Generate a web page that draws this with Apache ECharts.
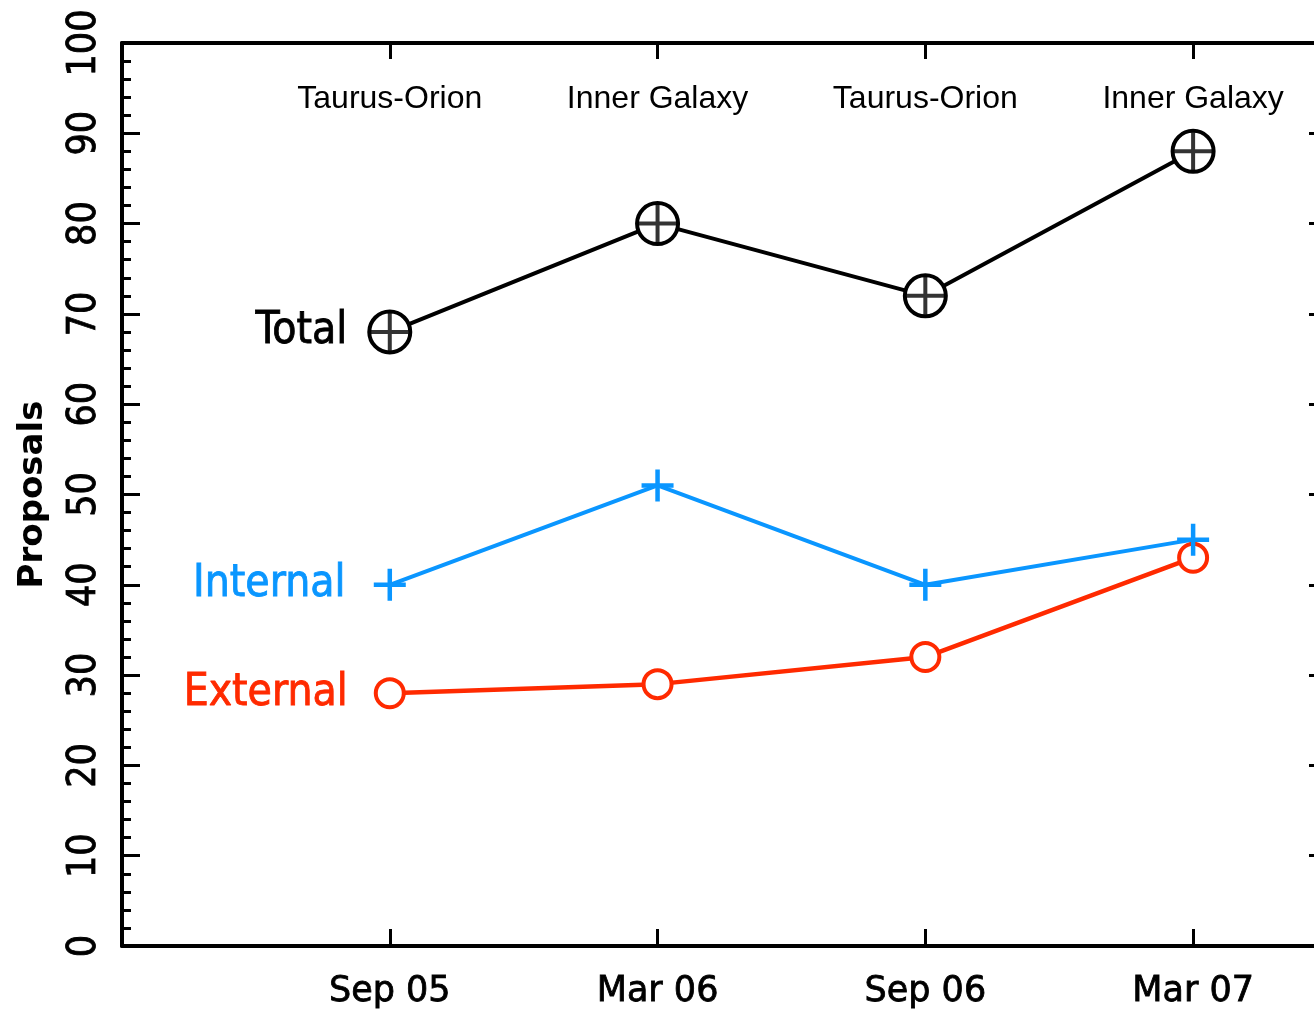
<!DOCTYPE html>
<html>
<head>
<meta charset="utf-8">
<script src="https://cdn.jsdelivr.net/npm/echarts@6/dist/echarts.min.js"></script>
<style>
html,body{margin:0;padding:0;background:#fff;overflow:hidden;}
#c{width:1340px;height:1013px;}
</style>
</head>
<body>
<div id="c"></div>
<script>
// ---- data ----
var categories = ['Sep 05', 'Mar 06', 'Sep 06', 'Mar 07'];
var regions = ['Taurus-Orion', 'Inner Galaxy', 'Taurus-Orion', 'Inner Galaxy'];
var totalValues = [68, 80, 72, 88];
var internalValues = [40, 51, 40, 45];
var externalValues = [28, 29, 32, 43];
var yTicks = [0, 10, 20, 30, 40, 50, 60, 70, 80, 90, 100];

function pts(vals) { return vals.map(function (v, i) { return [i + 1, v]; }); }
function catLabel(arr) {
  return function (v) {
    var i = Math.round(v) - 1;
    return (Math.abs(v - Math.round(v)) < 1e-6 && i >= 0 && i < arr.length) ? arr[i] : '';
  };
}
function firstLabel(name, color, dist) {
  return {
    show: true, position: 'left', distance: dist, color: color,
    fontFamily: 'DejaVu Sans Condensed, DejaVu Sans', fontSize: 44,
    textBorderColor: color, textBorderWidth: 0.8,
    formatter: function (p) { return p.dataIndex === 0 ? name : ''; }
  };
}

var chart = echarts.init(document.getElementById('c'), null, { renderer: 'canvas' });
var plus = 'path://M0,-10L0,10M-10,0L10,0';
var blue = '#0a96ff', red = '#ff2a00';

chart.setOption({
  animation: false,
  backgroundColor: '#fff',
  grid: { left: 122, right: 13, top: 43, bottom: 67, containLabel: false, outerBoundsMode: 'none' },
  xAxis: [{
    type: 'value', min: 0, max: 4.5, interval: 1, position: 'bottom',
    splitLine: { show: false },
    axisLine: { show: true, onZero: false, lineStyle: { color: '#000', width: 4 } },
    axisTick: { show: true, inside: true, length: 17, lineStyle: { color: '#000', width: 3 } },
    axisLabel: { formatter: catLabel(categories), margin: 28, color: '#000',
      fontFamily: 'DejaVu Sans', fontSize: 35, textBorderColor: '#000', textBorderWidth: 0.8 }
  }, {
    type: 'value', min: 0, max: 4.5, interval: 1, position: 'top',
    splitLine: { show: false },
    axisLine: { show: true, onZero: false, lineStyle: { color: '#000', width: 4 } },
    axisTick: { show: true, inside: true, length: 16, lineStyle: { color: '#000', width: 3 } },
    axisLabel: { inside: true, formatter: catLabel(regions), margin: 40, color: '#000',
      fontFamily: 'Liberation Sans, Arial', fontSize: 32 }
  }],
  yAxis: [{
    type: 'value', min: 0, max: 100, interval: 10, position: 'left',
    name: 'Proposals', nameLocation: 'middle', nameGap: 72, nameRotate: 90,
    nameTextStyle: { color: '#000', fontFamily: 'DejaVu Sans', fontSize: 34, fontWeight: 600 },
    splitLine: { show: false },
    axisLine: { show: true, onZero: false, lineStyle: { color: '#000', width: 4 } },
    axisTick: { show: true, inside: true, length: 18, lineStyle: { color: '#000', width: 3 } },
    minorTick: { show: true, splitNumber: 5, length: 9, lineStyle: { color: '#000', width: 3 } },
    axisLabel: { rotate: 90, margin: 18, color: '#000',
      fontFamily: 'DejaVu Sans Condensed, DejaVu Sans', fontSize: 39,
      textBorderColor: '#000', textBorderWidth: 0.8,
      formatter: function (v) { return yTicks.indexOf(v) >= 0 ? String(v) : ''; } }
  }, {
    type: 'value', min: 0, max: 100, interval: 10, position: 'right',
    splitLine: { show: false },
    axisLine: { show: true, onZero: false, lineStyle: { color: '#000', width: 4 } },
    axisTick: { show: true, inside: true, length: 18, lineStyle: { color: '#000', width: 3 } },
    minorTick: { show: true, splitNumber: 5, length: 9, lineStyle: { color: '#000', width: 3 } },
    axisLabel: { show: false }
  }],
  series: [{
    name: 'External', type: 'line', data: pts(externalValues),
    lineStyle: { color: red, width: 4.5 },
    symbol: 'circle', symbolSize: 28,
    itemStyle: { color: '#fff', borderColor: red, borderWidth: 4 },
    label: firstLabel('External', red, 26), z: 3
  }, {
    name: 'Internal', type: 'line', data: pts(internalValues),
    lineStyle: { color: blue, width: 4 },
    symbol: plus, symbolSize: 32,
    itemStyle: { color: blue, borderColor: blue, borderWidth: 4.5 },
    label: firstLabel('Internal', blue, 26), z: 4
  }, {
    name: 'Total', type: 'line', data: pts(totalValues),
    lineStyle: { color: '#000', width: 4 },
    symbol: 'circle', symbolSize: 41,
    itemStyle: { color: '#fff', borderColor: '#000', borderWidth: 4 },
    label: firstLabel('Total', '#000', 20), z: 5
  }, {
    name: 'TotalCross', type: 'scatter', data: pts(totalValues),
    symbol: plus, symbolSize: 38,
    itemStyle: { color: '#000', borderColor: '#000', borderWidth: 4 },
    silent: true, z: 6
  }]
});
</script>
</body>
</html>
